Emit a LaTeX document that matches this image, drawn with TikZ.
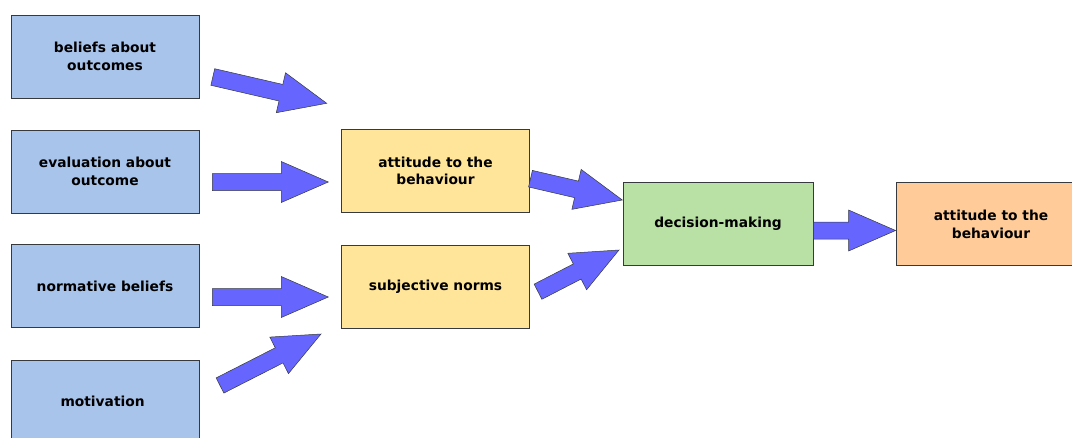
\documentclass[tikz,border=0pt]{standalone}
\usepackage{fontspec}
\setmainfont{DejaVu Sans}
\usetikzlibrary{calc}
\definecolor{boxblue}{HTML}{A9C4EB}
\definecolor{boxyellow}{HTML}{FFE599}
\definecolor{boxgreen}{HTML}{B9E0A5}
\definecolor{boxorange}{HTML}{FFCC99}
\definecolor{arrowblue}{HTML}{6666FF}
\definecolor{edge}{HTML}{36393D}
% block arrow from tail #1 to tip #2
\newcommand{\fatarrow}[2]{%
  \coordinate (fa) at ($(#2)!47pt!(#1)$);
  \draw[fatarrow] ($(#1)!8.5pt!90:(#2)$) -- ($(fa)!8.5pt!-90:(#1)$) -- ($(fa)!20.5pt!-90:(#1)$) -- (#2)
    -- ($(fa)!20.5pt!90:(#1)$) -- ($(fa)!8.5pt!90:(#1)$) -- ($(#1)!8.5pt!-90:(#2)$) -- cycle;}
\begin{document}
\begin{tikzpicture}[x=1pt, y=-1pt,
    box/.style={draw=edge, line width=0.8pt, minimum width=188pt, minimum height=83pt,
      align=center, font=\bfseries\fontsize{13.8}{17.7}\selectfont},
    fatarrow/.style={draw=edge, line width=0.5pt, fill=arrowblue, line join=miter}]
        \useasboundingbox (0,0) rectangle (1072,437);
        \clip (0,0) rectangle (1072,437);
        % inputs
        \foreach \name/\y/\txt in {
            beliefs/56.5/{beliefs about\\outcomes},
            evaluation/171.5/{evaluation about\\outcome},
            normative/286/{normative beliefs},
            motivation/401.5/{motivation}
        } {
            \node[box, fill=boxblue] (\name) at (105,\y) {\txt};
        }
        % middle and outcome
        \node[box, fill=boxyellow] (attitude) at (435.5,171) {attitude to the\\behaviour};
        \node[box, fill=boxyellow] (subjective) at (435.5,286.5) {subjective norms};
        \node[box, fill=boxgreen, minimum width=190pt] (decision) at (718,224) {decision-making};
        \node[box, fill=boxorange, minimum width=190pt] (result) at (991,224) {attitude to the\\behaviour};
        % arrow ends
        \coordinate (beliefs-out) at (212.8,77);
        \coordinate (beliefs-in) at (326.7,103.3);
        \coordinate (evaluation-out) at (212.3,182);
        \coordinate (evaluation-in) at (328.3,182);
        \coordinate (normative-out) at (212.3,297);
        \coordinate (normative-in) at (328.3,297);
        \coordinate (motivation-out) at (220,385.5);
        \coordinate (motivation-in) at (321,334);
        \coordinate (attitude-out) at (530.5,178.7);
        \coordinate (attitude-in) at (622.3,200);
        \coordinate (subjective-out) at (538,291.7);
        \coordinate (subjective-in) at (619,250);
        \coordinate (decision-out) at ($(decision.east)+(0,6.5)$);
        \coordinate (result-in) at ($(result.west)+(0,6.5)$);
        \foreach \s/\t in {beliefs-out/beliefs-in, evaluation-out/evaluation-in,
            normative-out/normative-in, motivation-out/motivation-in,
            attitude-out/attitude-in, subjective-out/subjective-in,
            decision-out/result-in} {
            \fatarrow{\s}{\t}
        }
    \end{tikzpicture}
\end{document}
